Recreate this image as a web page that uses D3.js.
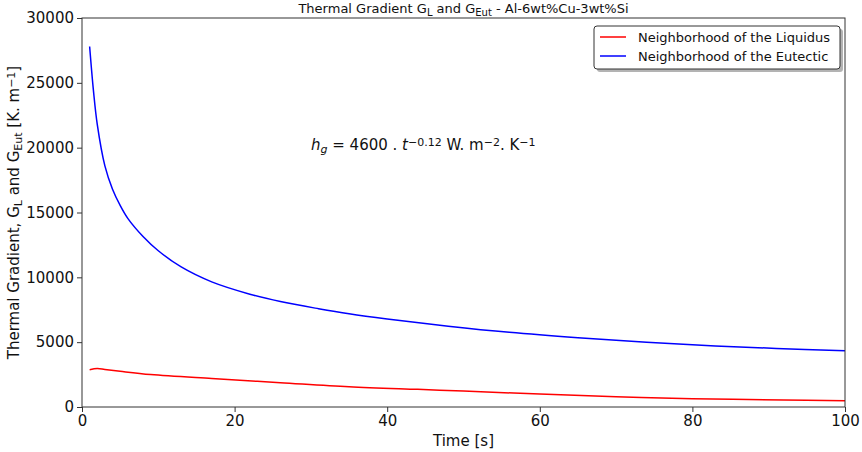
<!DOCTYPE html>
<html>
<head>
<meta charset="utf-8">
<script src="https://cdn.jsdelivr.net/npm/d3@7"></script>
<style>
  body { margin: 0; background: #fff; }
  svg { font-family: "DejaVu Sans", sans-serif; }
</style>
</head>
<body>
<script>
  var timeEutectic = [1, 1.5, 2, 3, 4, 5, 6, 8, 10, 13, 17, 22, 26, 31, 35, 40, 48, 56, 65, 74, 83, 91, 100];
  var gEutectic = [27800, 24400, 21800, 18600, 16800, 15550, 14550, 13150, 12050, 10800, 9650, 8700, 8130, 7580, 7190, 6790, 6235, 5760, 5340, 4990, 4710, 4520, 4330];
  var timeLiquidus = [1, 2, 3, 5, 9, 17, 26, 35, 44, 50, 60, 70, 80, 92, 100];
  var gLiquidus = [2880, 2960, 2890, 2750, 2500, 2190, 1875, 1565, 1360, 1230, 1000, 800, 640, 540, 485];
  var xTicks = [0, 20, 40, 60, 80, 100];
  var yTicks = [0, 5000, 10000, 15000, 20000, 25000, 30000];

  (function() {
    var W = 862, H = 452;
    var mLeft = 82, mRight = 845, mTop = 18, mBottom = 407;

    var svg = d3.select('body').append('svg').attr('width', W).attr('height', H);

    var x = d3.scaleLinear().domain([0, 100]).range([mLeft, mRight]);
    var y = d3.scaleLinear().domain([0, 30000]).range([mBottom, mTop]);

    var line = d3.line().x(function(d) { return x(d[0]); }).y(function(d) { return y(d[1]); }).curve(d3.curveCatmullRom.alpha(0.5));

    svg.append('path').datum(d3.zip(timeLiquidus, gLiquidus)).attr('d', line)
      .attr('fill', 'none').attr('stroke', '#ff0000').attr('stroke-width', 1.5);
    svg.append('path').datum(d3.zip(timeEutectic, gEutectic)).attr('d', line)
      .attr('fill', 'none').attr('stroke', '#0000ff').attr('stroke-width', 1.5);

    // axes
    var xAxis = svg.append('g').attr('transform', 'translate(0,' + mBottom + ')')
      .call(d3.axisBottom(x).tickValues(xTicks).tickSize(5).tickPadding(3).tickFormat(d3.format('d')));
    var yAxis = svg.append('g').attr('transform', 'translate(' + mLeft + ',0)')
      .call(d3.axisLeft(y).tickValues(yTicks).tickSize(5).tickPadding(3).tickFormat(d3.format('d')));
    [xAxis, yAxis].forEach(function(a) {
      a.select('.domain').remove();
      a.selectAll('line').attr('stroke', '#333');
      a.selectAll('text').attr('fill', '#111').style('font-size', '15px').style('font-family', '"DejaVu Sans", sans-serif');
    });

    svg.append('rect').attr('x', mLeft).attr('y', mTop).attr('width', mRight - mLeft).attr('height', mBottom - mTop)
      .attr('fill', 'none').attr('stroke', '#333').attr('stroke-width', 1);

    // title
    var title = svg.append('text').attr('x', (mLeft + mRight) / 2).attr('y', 13).attr('text-anchor', 'middle')
      .style('font-size', '13px').attr('fill', '#111');
    title.append('tspan').text('Thermal Gradient G');
    title.append('tspan').attr('baseline-shift', '-25%').style('font-size', '10px').text('L');
    title.append('tspan').text(' and G');
    title.append('tspan').attr('baseline-shift', '-25%').style('font-size', '10px').text('Eut');
    title.append('tspan').text(' - Al-6wt%Cu-3wt%Si');

    // axis labels
    svg.append('text').attr('x', (mLeft + mRight) / 2).attr('y', 446).attr('text-anchor', 'middle')
      .style('font-size', '15px').attr('fill', '#111').text('Time [s]');

    var yl = svg.append('text').attr('transform', 'translate(19,' + ((mTop + mBottom) / 2) + ') rotate(-90)')
      .attr('text-anchor', 'middle').style('font-size', '15px').attr('fill', '#111');
    yl.append('tspan').text('Thermal Gradient, G');
    yl.append('tspan').attr('baseline-shift', '-25%').style('font-size', '11px').text('L');
    yl.append('tspan').text(' and G');
    yl.append('tspan').attr('baseline-shift', '-25%').style('font-size', '11px').text('Eut');
    yl.append('tspan').text(' [K. m');
    yl.append('tspan').attr('baseline-shift', '40%').style('font-size', '11px').text('\u22121');
    yl.append('tspan').text(']');

    // annotation
    var ann = svg.append('text').attr('x', 311).attr('y', 150).style('font-size', '15px').attr('fill', '#111');
    ann.append('tspan').style('font-style', 'italic').text('h');
    ann.append('tspan').attr('baseline-shift', '-25%').style('font-size', '11px').style('font-style', 'italic').text('g');
    ann.append('tspan').text(' = 4600 . ');
    ann.append('tspan').style('font-style', 'italic').text('t');
    ann.append('tspan').attr('baseline-shift', '40%').style('font-size', '11px').text('\u22120.12');
    ann.append('tspan').text(' W. m');
    ann.append('tspan').attr('baseline-shift', '40%').style('font-size', '11px').text('\u22122');
    ann.append('tspan').text('. K');
    ann.append('tspan').attr('baseline-shift', '40%').style('font-size', '11px').text('\u22121');

    // legend
    var legendNames = ['Neighborhood of the Liquidus', 'Neighborhood of the Eutectic'];
    var legendColors = ['#ff0000', '#0000ff'];
    var lg = svg.append('g').attr('transform', 'translate(594,26)');
    lg.append('rect').attr('x', 3).attr('y', 3).attr('width', 246).attr('height', 43).attr('rx', 3)
      .attr('fill', '#808080').attr('opacity', 0.6);
    lg.append('rect').attr('width', 246).attr('height', 43).attr('rx', 3)
      .attr('fill', '#fff').attr('stroke', '#333').attr('stroke-width', 1);
    legendNames.forEach(function(name, i) {
      var yy = 11 + i * 19;
      lg.append('line').attr('x1', 6).attr('x2', 32).attr('y1', yy).attr('y2', yy)
        .attr('stroke', legendColors[i]).attr('stroke-width', 1.5);
      lg.append('text').attr('x', 44).attr('y', yy + 4.5).style('font-size', '13px').attr('fill', '#111').text(name);
    });
  }).call(this);
</script>
</body>
</html>
